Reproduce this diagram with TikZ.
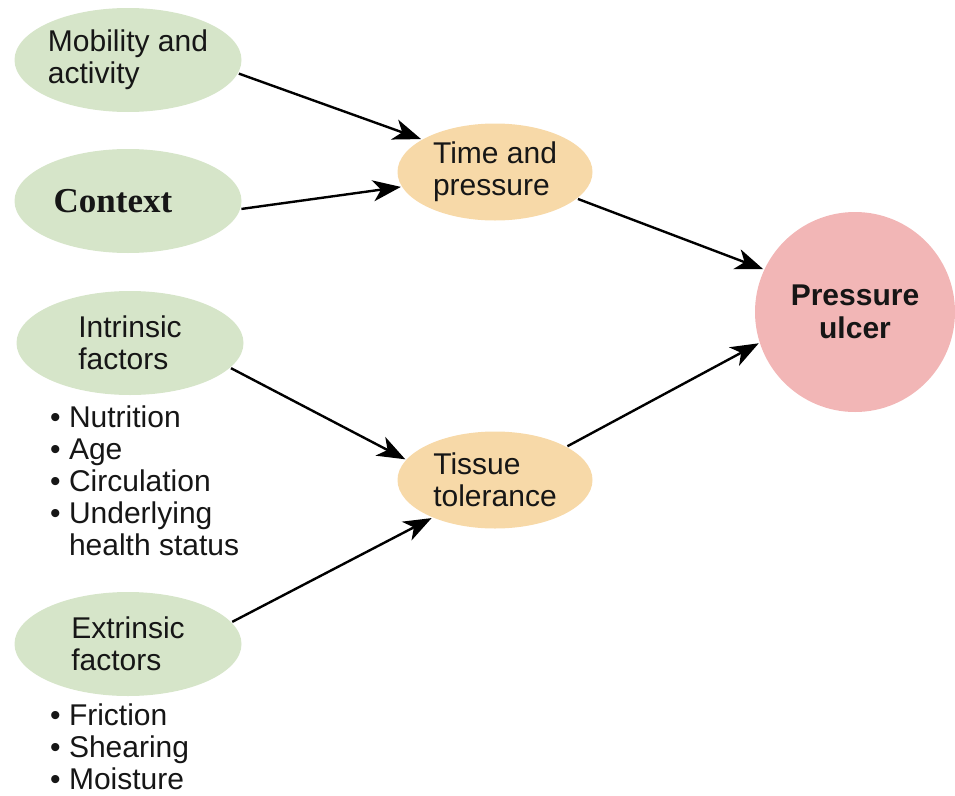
\documentclass[tikz,border=0pt]{standalone}
\usepackage{fontspec}
\setmainfont{Liberation Sans}
\newfontfamily\timesfont{Liberation Serif}
\usetikzlibrary{shapes,arrows.meta,positioning}
\definecolor{leafgreen}{RGB}{214,229,201}
\definecolor{peach}{RGB}{247,217,168}
\definecolor{rose}{RGB}{242,182,182}
\definecolor{inkgray}{RGB}{22,22,22}
\tikzset{
    -{Stealth[length=28pt,width=21pt,inset=8pt]},
    factor/.style ={ellipse, fill=leafgreen, minimum width=227pt, minimum height=104pt, inner sep=0pt, align=left, text=inkgray},
    mid/.style = {ellipse, fill=peach, minimum width=195pt, minimum height=97pt, inner sep=0pt, align=left, text=inkgray},
    outcome/.style = {circle, fill=rose, minimum size=200pt, inner sep=0pt, align=center, text=inkgray, font=\fontsize{30}{33}\selectfont\bfseries},
    list/.style = {anchor=north west, inner sep=0pt, align=left, text=inkgray}
}
\begin{document}
\begin{tikzpicture}[x=1pt,y=-1pt,line width=2.4pt,font=\fontsize{30}{32}\selectfont]
    \useasboundingbox (0,0) rectangle (955,795);

    \node[factor] (mob) at (128,60) {Mobility and\\activity};
    \node[factor] (ctx) at (128,201) {\timesfont\bfseries\fontsize{35}{37}\selectfont Context\hspace*{30pt}};
    \node[factor] (intr) at (130,343) {Intrinsic\\factors};
    \node[factor] (extr) at (128,644) {Extrinsic\\factors};
    \node[mid] (time) at (495,172) {Time and\\pressure};
    \node[mid] (tiss) at (495,480) {Tissue\\tolerance};
    \node[outcome] (ulcer) at (855,312) {Pressure\\ulcer};

    \node[list] (intrlist) at (49,405) {\textbullet\ Nutrition\\\textbullet\ Age\\\textbullet\ Circulation\\\textbullet\ Underlying\\\phantom{\textbullet\ }health status};
    \node[list] (extrlist) at (49,703) {\textbullet\ Friction\\\textbullet\ Shearing\\\textbullet\ Moisture};

    \path (mob.-7) edge (time.156);
    \path (ctx.-4) edge (time.189);
    \path (time.-18) edge (ulcer.155);
    \path (intr.-14) edge (tiss.167);
    \path (extr.12) edge (tiss.211);
    \path (tiss.25) edge (ulcer.198);
\end{tikzpicture}
\end{document}
